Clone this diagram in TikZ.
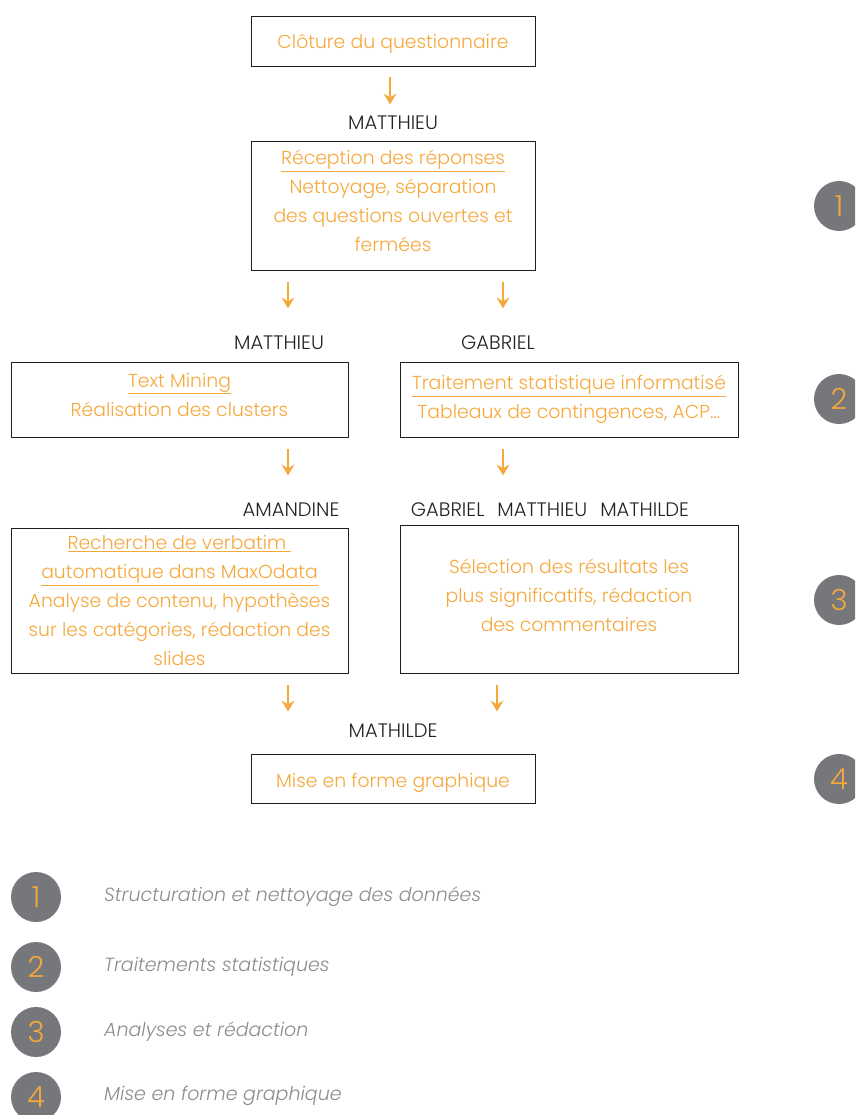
\documentclass[tikz,border=0pt]{standalone}
\usepackage{fontspec}
\setmainfont{Poppins}[UprightFont=* Light, ItalicFont=* Light Italic]
\usetikzlibrary{arrows.meta}
\definecolor{boxorange}{RGB}{245,168,60}
\definecolor{boxline}{RGB}{30,30,30}
\definecolor{whotext}{RGB}{35,35,35}
\definecolor{phasegray}{RGB}{118,119,123}
\definecolor{legendtext}{RGB}{140,140,140}

\begin{document}
\begin{tikzpicture}[x=1pt,y=-1pt]
    \tikzstyle{every node}=[font=\fontsize{18.8}{29}\selectfont]
    \tikzstyle{stepbox}=[draw=boxline, line width=0.8pt, text=boxorange, align=center, inner sep=0pt]
    \tikzstyle{who}=[text=whotext, font=\fontsize{19.5}{22}\selectfont]
    \tikzstyle{flow}=[draw=boxorange, line width=1.1pt, -{Stealth[length=11pt,width=13pt,inset=4pt]}]
    \tikzstyle{phase}=[circle, fill=phasegray, minimum size=50pt, inner sep=0pt, text=boxorange, font=\fontsize{29}{29}\selectfont]
    \tikzstyle{legend}=[anchor=west, inner xsep=0pt, text=legendtext, font=\fontsize{19}{22}\selectfont\itshape]

    \clip (0,0) rectangle (855,1115);

    \node[stepbox, minimum width=284pt, minimum height=50pt] (cloture) at (393,41)
    {\raisebox{-3pt}[\height][\depth]{Clôture du questionnaire}};

    \node[who] (who1) at (393,123) {MATTHIEU};

    \node[stepbox, minimum width=284pt, minimum height=129pt] (reception) at (393,205.5)
    {\underline{Réception des réponses}\\ Nettoyage, séparation\\ des questions ouvertes et\\ fermées\\[-20pt]};

    \node[who] (who2a) at (279,343) {MATTHIEU};
    \node[who] (who2b) at (498,343) {GABRIEL};

    \node[stepbox, minimum width=337pt, minimum height=75pt] (mining) at (179.5,399.5)
    {\underline{Text Mining}\\ Réalisation des clusters\\[-19pt]};

    \node[stepbox, minimum width=338pt, minimum height=75pt] (stats) at (569,399.5)
    {\underline{Traitement statistique informatisé}\\ Tableaux de contingences, ACP...};

    \node[who] (who3a) at (291,510) {AMANDINE};
    \node[who] (who3b) at (550,510) {GABRIEL\hspace{13pt}MATTHIEU\hspace{13pt}MATHILDE};

    \node[stepbox, minimum width=337pt, minimum height=145pt] (verbatim) at (179.5,600.5)
    {\underline{Recherche de verbatim\ }\\ \underline{automatique dans MaxOdata}\\ Analyse de contenu, hypothèses\\ sur les catégories, rédaction des\\ slides};

    \node[stepbox, minimum width=338pt, minimum height=148pt] (selection) at (569,599)
    {Sélection des résultats les\\ plus significatifs, rédaction\\ des commentaires\\[-21pt]};

    \node[who] (who4) at (393,731) {MATHILDE};

    \node[stepbox, minimum width=284pt, minimum height=49pt] (miseenforme) at (393,778.5)
    {\raisebox{-4pt}[\height][\depth]{Mise en forme graphique}};

    % arrows
    \draw[flow] ([xshift=-3pt,yshift=-11pt]cloture.south) -- ([xshift=-3pt,yshift=-38pt]cloture.south);

    \draw[flow] ([xshift=-105pt,yshift=-12pt]reception.south) -- ([xshift=-105pt,yshift=-38pt]reception.south);
    \draw[flow] ([xshift=110pt,yshift=-12pt]reception.south) -- ([xshift=110pt,yshift=-38pt]reception.south);

    \draw[flow] ([xshift=108.5pt,yshift=-12pt]mining.south) -- ([xshift=108.5pt,yshift=-38pt]mining.south);
    \draw[flow] ([xshift=-66pt,yshift=-12pt]stats.south) -- ([xshift=-66pt,yshift=-38pt]stats.south);

    \draw[flow] ([xshift=108.5pt,yshift=-12pt]verbatim.south) -- ([xshift=108.5pt,yshift=-38pt]verbatim.south);
    \draw[flow] ([xshift=-72pt,yshift=-12pt]selection.south) -- ([xshift=-72pt,yshift=-38pt]selection.south);

    % phases on the right
    \node[phase] (side1) at (839,206) {1};
    \node[phase] (side2) at (839,399) {2};
    \node[phase] (side3) at (839,600) {3};
    \node[phase] (side4) at (839,779) {4};

    % legend
    \node[phase] (leg1) at (36,897) {1};
    \node[legend] (legtext1) at (104,897) {Structuration et nettoyage des données};

    \node[phase] (leg2) at (36,967) {2};
    \node[legend] (legtext2) at (104,967) {Traitements statistiques};

    \node[phase] (leg3) at (36,1032) {3};
    \node[legend] (legtext3) at (104,1032) {Analyses et rédaction};

    \node[phase] (leg4) at (36,1097) {4};
    \node[legend] (legtext4) at (104,1096) {Mise en forme graphique};

\end{tikzpicture}
\end{document}
